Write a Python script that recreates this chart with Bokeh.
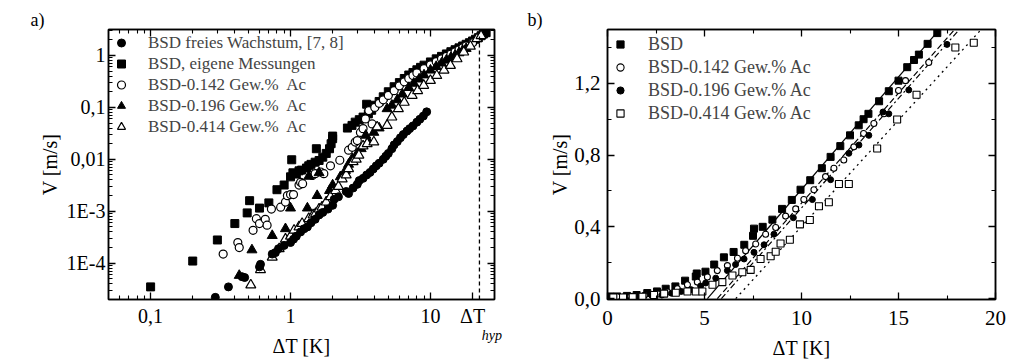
from bokeh.plotting import figure
from bokeh.layouts import row
from bokeh.models import (FixedTicker, LogAxis, LinearAxis, Legend, LegendItem,
                          Span, Range1d)
from bokeh.embed import file_html
from bokeh.resources import INLINE

FONT = "Liberation Serif"

# ---------------- panel a) data (log-log) ----------------
free_x = [0.29, 0.36, 0.45, 0.47, 0.60, 0.61, 0.74, 0.78, 0.82, 0.90, 1.0, 1.05, 1.1, 1.18,
          1.25, 1.32, 1.4, 1.5, 1.6, 1.7, 1.85, 2.0, 2.05, 2.2, 2.5, 2.6, 2.8, 3.0, 3.1, 3.3,
          3.5, 3.7, 3.9, 4.1, 4.3, 4.6, 4.8, 5.0, 5.3, 5.5, 5.8, 6.1, 6.4, 6.8, 7.1, 7.5,
          8.0, 8.4, 8.9, 9.4]
free_y = [2.2e-5, 3.5e-5, 5.5e-5, 5.3e-5, 8.5e-5, 9.5e-5, 1.5e-4, 1.6e-4, 1.9e-4, 2.2e-4,
          2.5e-4, 2.9e-4, 3.3e-4, 4.0e-4, 4.6e-4, 5.0e-4, 6.0e-4, 7.0e-4, 8.5e-4, 9.5e-4,
          1.1e-3, 1.3e-3, 1.7e-3, 1.9e-3, 2.4e-3, 2.2e-3, 2.8e-3, 3.3e-3, 3.9e-3, 4.3e-3,
          5.0e-3, 5.6e-3, 6.5e-3, 7.5e-3, 8.4e-3, 1.0e-2, 1.15e-2, 1.3e-2, 1.6e-2, 1.9e-2,
          2.2e-2, 2.6e-2, 3.0e-2, 3.5e-2, 3.9e-2, 4.4e-2, 5.2e-2, 5.9e-2, 6.8e-2, 8.2e-2]

own_x = [0.1, 0.2, 0.3, 0.4, 0.49, 0.51, 0.6, 0.7, 0.8, 0.9, 1.02, 1.0, 1.04, 1.1, 1.15,
         1.2, 1.3, 1.35, 1.4, 1.5, 1.53, 1.6, 1.7, 1.8, 1.9, 1.95, 2.0, 2.0, 2.55, 2.75,
         2.9, 3.1, 3.3, 3.5, 3.6, 3.8, 4.0, 4.3, 4.6, 5.0, 5.5, 6.0, 6.5, 7.0, 7.5, 8.0,
         8.5, 9.0, 10, 11, 12, 13, 14, 15, 16, 17, 18, 19, 20, 21, 22, 23, 24, 25]
own_y = [3.5e-5, 1.1e-4, 2.8e-4, 5.8e-4, 9.3e-4, 1.6e-3, 1.15e-3, 1.45e-3, 2.6e-3, 3.2e-3,
         9.8e-3, 4.6e-3, 5.5e-3, 5.2e-3, 6.0e-3, 6.2e-3, 6.8e-3, 7.5e-3, 8.0e-3, 8.8e-3,
         1.6e-2, 9.5e-3, 1.1e-2, 1.3e-2, 1.6e-2, 2.0e-2, 2.5e-2, 2.8e-2, 4.0e-2, 4.5e-2,
         5.2e-2, 5.8e-2, 6.5e-2, 1.15e-1, 7.5e-2, 8.8e-2, 1.1e-1, 1.3e-1, 1.6e-1, 2.0e-1,
         2.5e-1, 3.0e-1, 3.6e-1, 4.2e-1, 4.7e-1, 5.3e-1, 5.9e-1, 6.5e-1, 7.5e-1, 8.6e-1,
         9.6e-1, 1.07, 1.18, 1.29, 1.40, 1.52, 1.64, 1.76, 1.9, 2.05, 2.2, 2.4, 2.6, 2.75]

a142_x = [0.33, 0.42, 0.43, 0.54, 0.57, 0.6, 0.66, 0.68, 0.73, 0.85, 0.92, 0.95, 1.0, 1.05,
          1.15, 1.18, 1.22, 1.43, 1.5, 1.64, 1.73, 1.93, 2.25, 2.6, 2.76, 2.9, 3.0, 3.16,
          3.3, 3.43, 3.63, 3.83, 4.0, 4.3, 4.6, 5.0, 5.5, 6.0, 6.5, 7.0, 7.5, 8.0, 9.0, 10,
          11, 12, 13, 14, 15, 16, 17, 18, 20]
a142_y = [1.5e-4, 2.5e-4, 2.0e-4, 4.3e-4, 7.2e-4, 5.8e-4, 7.0e-4, 5.4e-4, 1.1e-3, 1.2e-3,
          1.5e-3, 2.0e-3, 2.1e-3, 2.1e-3, 3.2e-3, 3.6e-3, 3.4e-3, 4.9e-3, 5.3e-3, 5.7e-3,
          5.3e-3, 7.5e-3, 9.6e-3, 1.5e-2, 1.7e-2, 2.15e-2, 2.3e-2, 3.3e-2, 3.9e-2, 6.0e-2,
          8.7e-2, 4.8e-2, 1.0e-1, 1.2e-1, 1.4e-1, 1.7e-1, 2.1e-1, 2.6e-1, 3.1e-1, 3.6e-1,
          4.1e-1, 4.6e-1, 5.6e-1, 6.6e-1, 7.6e-1, 8.6e-1, 9.6e-1, 1.06, 1.17, 1.28, 1.4,
          1.52, 1.75]

a196_x = [0.43, 0.53, 0.74, 0.92, 1.0, 1.32, 1.35, 1.55, 1.6, 1.9, 2.0, 2.27, 2.47, 2.6,
          2.76, 3.0, 3.2, 3.45, 3.6, 3.94, 4.3, 4.9, 5.3, 5.8, 6.3, 7.0, 7.6, 8.3, 9.0, 10,
          11, 12, 13, 14, 15, 16, 17, 18]
a196_y = [5.8e-5, 1.8e-4, 3.4e-4, 4.6e-4, 1.15e-3, 1.15e-3, 4.7e-3, 2.0e-3, 5.5e-3, 2.5e-3,
          3.2e-3, 4.6e-3, 6.1e-3, 8.0e-3, 1.03e-2, 1.3e-2, 1.6e-2, 2.9e-2, 2.2e-2, 3.3e-2,
          4.0e-2, 9.4e-2, 1.1e-1, 1.4e-1, 1.8e-1, 2.4e-1, 2.9e-1, 3.5e-1, 4.2e-1, 5.2e-1,
          6.1e-1, 7.1e-1, 8.1e-1, 9.1e-1, 1.0, 1.12, 1.24, 1.36]

a414_x = [0.52, 0.61, 0.74, 0.83, 0.92, 1.0, 1.06, 1.15, 1.21, 1.35, 1.45, 1.51, 1.6, 1.68,
          1.8, 1.93, 2.1, 2.2, 2.34, 2.5, 2.6, 2.8, 2.95, 3.08, 3.3, 3.53, 3.94, 4.16, 4.9,
          5.3, 5.9, 6.5, 7.4, 8.1, 8.95, 10, 11.1, 12.5, 13.9, 15.5, 17.3, 19.3, 21.5, 23]
a414_y = [3.8e-5, 7.5e-5, 1.3e-4, 1.9e-4, 2.9e-4, 3.3e-4, 4.3e-4, 5.0e-4, 5.8e-4, 7.2e-4,
          8.5e-4, 9.0e-4, 1.1e-3, 1.2e-3, 1.5e-3, 1.9e-3, 2.5e-3, 3.0e-3, 4.2e-3, 5.0e-3,
          6.6e-3, 9.0e-3, 1.0e-2, 1.2e-2, 1.8e-2, 2.0e-2, 2.15e-2, 4.2e-2, 4.5e-2, 6.5e-2,
          9.4e-2, 1.25e-1, 1.7e-1, 2.1e-1, 2.65e-1, 3.3e-1, 4.1e-1, 5.2e-1, 6.4e-1, 8.6e-1,
          1.16, 1.5, 2.1, 2.4]

dT_hyp = 22.4

a_xticks = [0.1, 1, 10, 20]
a_xlabels = {0.1: "0,1", 1: "1", 10: "10", 20: "ΔT"}
a_xminor = [0.06, 0.07, 0.08, 0.09, 0.2, 0.3, 0.4, 0.5, 0.6, 0.7, 0.8, 0.9,
            2, 3, 4, 5, 6, 7, 8, 9]
a_top_ticks = [0.1, 1, 10]
a_top_minor = a_xminor + [20]
hyp_tick = [27.5]
hyp_label = {27.5: "hyp"}
a_yticks = [1e-4, 1e-3, 1e-2, 1e-1, 1]
a_yminor = [2e-5, 3e-5, 4e-5, 5e-5, 6e-5, 7e-5, 8e-5, 9e-5,
            2e-4, 3e-4, 4e-4, 5e-4, 6e-4, 7e-4, 8e-4, 9e-4,
            2e-3, 3e-3, 4e-3, 5e-3, 6e-3, 7e-3, 8e-3, 9e-3,
            0.02, 0.03, 0.04, 0.05, 0.06, 0.07, 0.08, 0.09,
            0.2, 0.3, 0.4, 0.5, 0.6, 0.7, 0.8, 0.9, 2, 3]
a_ylabels = {1e-4: "1E-4", 1e-3: "1E-3", 1e-2: "0,01", 1e-1: "0,1", 1: "1"}

# ---------------- panel b) data (linear) ----------------
b_bsd_x = [0.15, 0.5, 1.0, 1.5, 2.05, 2.55, 3.0, 3.5, 4.0, 4.55, 4.6, 5.05, 5.5, 6.0, 6.5,
           7.05, 7.5, 7.55, 8.0, 8.5, 9.0, 9.5, 9.95, 10.45, 11.05, 11.5, 12.0, 12.5, 12.95,
           13.2, 13.45, 14.0, 14.5, 15.0, 15.45, 15.8, 16.05, 16.5, 17.0]
b_bsd_y = [0.012, 0.012, 0.015, 0.02, 0.031, 0.04, 0.055, 0.068, 0.10, 0.123, 0.14, 0.15,
           0.19, 0.23, 0.26, 0.30, 0.35, 0.39, 0.40, 0.44, 0.50, 0.55, 0.607, 0.66, 0.727,
           0.79, 0.85, 0.91, 0.966, 1.0, 1.03, 1.10, 1.156, 1.215, 1.29, 1.33, 1.36, 1.42,
           1.48]

b_142_x = [0.5, 1.2, 1.9, 2.6, 3.1, 3.6, 4.12, 4.63, 5.15, 5.66, 6.18, 6.7, 7.12, 7.64,
           8.15, 8.67, 9.18, 9.7, 10.12, 10.64, 11.24, 11.67, 12.18, 12.7, 13.2, 13.73,
           14.25, 15.0, 15.36, 16.56]
b_142_y = [0.011, 0.013, 0.018, 0.026, 0.037, 0.055, 0.077, 0.092, 0.12, 0.156, 0.184,
           0.225, 0.267, 0.304, 0.359, 0.396, 0.46, 0.50, 0.552, 0.607, 0.68, 0.727, 0.773,
           0.846, 0.92, 0.976, 1.03, 1.16, 1.215, 1.316]

b_196_x = [0.3, 0.8, 1.3, 1.8, 2.3, 2.8, 3.3, 3.8, 4.3, 4.8, 5.06, 5.58, 6.18, 6.6, 7.04,
           7.55, 8.07, 8.58, 9.58, 10.56, 11.5, 12.44, 12.96, 13.47, 14.2, 14.5, 15.53,
           17.5]
b_196_y = [0.008, 0.009, 0.01, 0.012, 0.015, 0.02, 0.03, 0.04, 0.05, 0.07, 0.087, 0.114,
           0.156, 0.19, 0.221, 0.258, 0.30, 0.359, 0.451, 0.552, 0.663, 0.81, 0.856, 0.91,
           1.04, 1.03, 1.163, 1.417]

b_414_x = [0.3, 0.8, 1.3, 1.8, 2.4, 2.92, 3.52, 4.12, 4.55, 4.89, 5.41, 5.92, 6.44, 6.95,
           7.38, 7.89, 8.41, 8.67, 8.92, 9.4, 9.92, 10.43, 10.9, 11.41, 11.93, 12.44, 13.9,
           14.93, 15.93, 17.93, 18.88]
b_414_y = [0.006, 0.006, 0.008, 0.01, 0.02, 0.028, 0.033, 0.04, 0.04, 0.04, 0.077, 0.092,
           0.129, 0.147, 0.16, 0.221, 0.236, 0.261, 0.307, 0.328, 0.414, 0.438, 0.515,
           0.537, 0.639, 0.639, 0.837, 0.998, 1.136, 1.40, 1.426]

fit_bsd_x = [5.15, 17.07]
fit_bsd_y = [0.0, 1.495]
fit_142_x = [5.66, 17.85]
fit_142_y = [0.0, 1.495]
fit_196_x = [5.87, 18.10]
fit_196_y = [0.0, 1.495]
fit_414_x = [6.61, 19.22]
fit_414_y = [0.0, 1.495]

b_xticks = [0, 5, 10, 15, 20]
b_xminor = [2.5, 7.5, 12.5, 17.5]
b_yticks = [0.0, 0.4, 0.8, 1.2]
b_yminor = [0.2, 0.6, 1.0, 1.4]
b_ylabels = {0.0: "0,0", 0.4: "0,4", 0.8: "0,8", 1.2: "1,2"}


def base_style(p, title, offset):
    p.grid.visible = False
    p.outline_line_color = "black"
    p.outline_line_width = 1.5
    p.background_fill_color = "white"
    p.border_fill_color = "white"
    p.title.text = title
    p.title.align = "left"
    p.title.offset = offset
    p.title.standoff = 0
    p.title.text_font = FONT
    p.title.text_font_style = "normal"
    p.title.text_font_size = "18px"
    p.title.text_color = "black"


def style_axis(ax, fs, standoff, label_standoff, show_labels=True):
    ax.axis_line_color = "black"
    ax.axis_line_width = 1.5
    ax.major_tick_in = 7
    ax.major_tick_out = 0
    ax.minor_tick_in = 4
    ax.minor_tick_out = 0
    ax.major_tick_line_width = 1.3
    ax.minor_tick_line_width = 1.1
    ax.major_tick_line_color = "black"
    ax.minor_tick_line_color = "black"
    ax.major_label_text_font = FONT
    ax.major_label_text_color = "black"
    ax.axis_label_text_font = FONT
    ax.axis_label_text_font_style = "normal"
    ax.axis_label_text_color = "black"
    ax.axis_label_text_font_size = "20px"
    ax.major_label_standoff = standoff
    ax.axis_label_standoff = label_standoff
    ax.major_label_text_font_size = f"{fs}px"
    if not show_labels:
        ax.major_label_text_font_size = "1px"
        ax.major_label_text_alpha = 0.0
        ax.major_label_standoff = 0


H = 361

# ---------------- panel a ----------------
pa = figure(width=508, height=H, x_axis_type="log", y_axis_type="log",
            x_range=Range1d(0.05, 28.7), y_range=Range1d(2.0e-5, 3.16),
            output_backend="svg", toolbar_location=None,
            min_border_left=108, min_border_right=14, min_border_top=29,
            min_border_bottom=61)
base_style(pa, "a)", -78)

xt_a = FixedTicker(ticks=a_xticks, minor_ticks=a_xminor)
xt_top = FixedTicker(ticks=a_top_ticks, minor_ticks=a_top_minor)
yt_a = FixedTicker(ticks=a_yticks, minor_ticks=a_yminor)
pa.xaxis[0].ticker = xt_a
pa.yaxis[0].ticker = yt_a
pa.xaxis[0].major_label_overrides = a_xlabels
pa.yaxis[0].major_label_overrides = a_ylabels
pa.yaxis[0].axis_label = "V [m/s]"
style_axis(pa.xaxis[0], 20, 5, 0)
style_axis(pa.yaxis[0], 20, 3, 3)

# second bottom axis: carries the "hyp" subscript and the axis title
bot2 = LogAxis(ticker=FixedTicker(ticks=hyp_tick), major_label_overrides=hyp_label,
               axis_label="ΔT [K]")
style_axis(bot2, 14, -2, -11)
bot2.major_label_text_font_style = "italic"
bot2.axis_line_alpha = 0
bot2.major_tick_in = 0
bot2.minor_tick_in = 0
pa.add_layout(bot2, "below")

top_a = LogAxis(ticker=xt_top)
right_a = LogAxis(ticker=yt_a)
style_axis(top_a, 1, 0, 0, show_labels=False)
style_axis(right_a, 1, 0, 0, show_labels=False)
pa.add_layout(top_a, "above")
pa.add_layout(right_a, "right")

pa.add_layout(Span(location=dT_hyp, dimension="height", line_color="black",
                   line_dash="4 3", line_width=1.3))

r_own = pa.scatter(own_x, own_y, marker="square", size=8, fill_color="black",
                   line_color="black")
r_142 = pa.scatter(a142_x, a142_y, marker="circle", size=8, fill_color="white",
                   line_color="black", line_width=1.2)
r_196 = pa.scatter(a196_x, a196_y, marker="triangle", size=10, fill_color="black",
                   line_color="black")
r_414 = pa.scatter(a414_x, a414_y, marker="triangle", size=10, fill_color="white",
                   line_color="black", line_width=1.2)
r_free = pa.scatter(free_x, free_y, marker="circle", size=8, fill_color="black",
                    line_color="black")

leg_a = Legend(items=[
    LegendItem(label="BSD freies Wachstum, [7, 8]", renderers=[r_free]),
    LegendItem(label="BSD, eigene Messungen", renderers=[r_own]),
    LegendItem(label="BSD-0.142 Gew.%  Ac", renderers=[r_142]),
    LegendItem(label="BSD-0.196 Gew.%  Ac", renderers=[r_196]),
    LegendItem(label="BSD-0.414 Gew.%  Ac", renderers=[r_414]),
], location="top_left")
leg_a.margin = 3
leg_a.padding = 0
leg_a.spacing = 0
leg_a.glyph_width = 20
leg_a.glyph_height = 21
leg_a.label_height = 21
leg_a.label_standoff = 17
leg_a.label_text_font = FONT
leg_a.label_text_font_size = "17px"
leg_a.border_line_alpha = 0
leg_a.background_fill_alpha = 0
pa.add_layout(leg_a)

# ---------------- panel b ----------------
pb = figure(width=510, height=H, x_range=Range1d(0, 20), y_range=Range1d(-0.005, 1.5),
            output_backend="svg", toolbar_location=None,
            min_border_left=99, min_border_right=23, min_border_top=29,
            min_border_bottom=61)
base_style(pb, "b)", -80)

xt_b = FixedTicker(ticks=b_xticks, minor_ticks=b_xminor)
yt_b = FixedTicker(ticks=b_yticks, minor_ticks=b_yminor)
pb.xaxis[0].ticker = xt_b
pb.yaxis[0].ticker = yt_b
pb.yaxis[0].major_label_overrides = b_ylabels
pb.xaxis[0].axis_label = "ΔT [K]"
pb.yaxis[0].axis_label = "V [m/s]"
style_axis(pb.xaxis[0], 21, 11, 9)
style_axis(pb.yaxis[0], 21, 7, 0)

top_b = LinearAxis(ticker=xt_b)
right_b = LinearAxis(ticker=yt_b)
style_axis(top_b, 1, 0, 0, show_labels=False)
style_axis(right_b, 1, 0, 0, show_labels=False)
pb.add_layout(top_b, "above")
pb.add_layout(right_b, "right")

pb.line(fit_bsd_x, fit_bsd_y, line_color="black", line_width=1.2)
pb.line(fit_142_x, fit_142_y, line_color="black", line_width=1.2, line_dash="6 3")
pb.line(fit_196_x, fit_196_y, line_color="black", line_width=1.2, line_dash="6 3 2 3")
pb.line(fit_414_x, fit_414_y, line_color="black", line_width=1.3, line_dash="2 4")

rb_bsd = pb.scatter(b_bsd_x, b_bsd_y, marker="square", size=7, fill_color="black",
                    line_color="black")
rb_142 = pb.scatter(b_142_x, b_142_y, marker="circle", size=6, fill_color="white",
                    line_color="black", line_width=1.1)
rb_196 = pb.scatter(b_196_x, b_196_y, marker="circle", size=6, fill_color="black",
                    line_color="black")
rb_414 = pb.scatter(b_414_x, b_414_y, marker="square", size=7, fill_color="white",
                    line_color="black", line_width=1.1)

leg_b = Legend(items=[
    LegendItem(label="BSD", renderers=[rb_bsd]),
    LegendItem(label="BSD-0.142 Gew.% Ac", renderers=[rb_142]),
    LegendItem(label="BSD-0.196 Gew.% Ac", renderers=[rb_196]),
    LegendItem(label="BSD-0.414 Gew.% Ac", renderers=[rb_414]),
], location="top_left")
leg_b.margin = 4
leg_b.padding = 0
leg_b.spacing = 1
leg_b.glyph_width = 18
leg_b.glyph_height = 22
leg_b.label_height = 22
leg_b.label_standoff = 19
leg_b.label_text_font = FONT
leg_b.label_text_font_size = "18px"
leg_b.border_line_alpha = 0
leg_b.background_fill_alpha = 0
pb.add_layout(leg_b)

layout = row(pa, pb, spacing=0)
open("out.html", "w").write(file_html(layout, INLINE))
